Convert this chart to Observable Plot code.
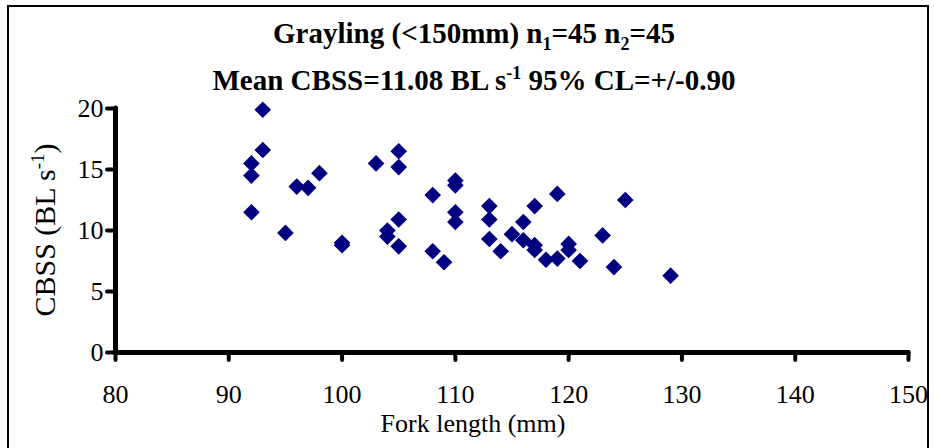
<!DOCTYPE html>
<html>
<head>
<meta charset="utf-8">
<script src="https://cdn.jsdelivr.net/npm/d3@7"></script>
<script src="https://cdn.jsdelivr.net/npm/@observablehq/plot@0.6"></script>
<style>
  html, body { margin: 0; padding: 0; background: #fff; }
  #wrap { position: relative; width: 934px; height: 448px; overflow: hidden; font-family: "Liberation Serif", "DejaVu Serif", serif; }
  #frame { position: absolute; left: 7px; top: 5px; width: 922px; height: 460px; border: 2px solid #000; box-sizing: border-box; }
  .title { position: absolute; left: 0; width: 948px; text-align: center; font-weight: bold; font-size: 29px; line-height: 30px; color: #000; white-space: nowrap; }
  .title sub, .title sup { font-size: 18px; line-height: 0; }
  #ylab { position: absolute; left: 45px; top: 230px; transform: translate(-50%, -50%) rotate(-90deg); font-size: 30px; line-height: 30px; white-space: nowrap; }
  #ylab sup { font-size: 19px; line-height: 0; }
  #xlab { position: absolute; left: 473px; top: 424px; transform: translate(-50%, -50%); font-size: 26px; line-height: 26px; white-space: nowrap; }
  #chart { position: absolute; left: 0; top: 0; }
</style>
</head>
<body>
<div id="wrap">
  <div id="frame"></div>
  <div id="chart"></div>
  <div class="title" style="top:18px">Grayling (&lt;150mm) n<sub>1</sub>=45 n<sub>2</sub>=45</div>
  <div class="title" style="top:65px">Mean CBSS=11.08 BL s<sup>-1</sup> 95% CL=+/-0.90</div>
  <div id="ylab">CBSS (BL s<sup>-1</sup>)</div>
  <div id="xlab"></div>
</div>
<script>
const forkLength = [93, 93, 92, 92, 96, 97, 98, 92, 95, 100, 100,
  103, 105, 105, 110, 110, 108, 105, 104, 104, 110, 110, 105, 108, 109,
  119, 113, 117, 113, 116, 113, 115, 116, 114, 117, 117, 118, 119, 120, 120, 121,
  125, 123, 124, 129];
const cbss = [19.9, 16.6, 15.5, 14.5, 13.6, 13.5, 14.7, 11.5, 9.8, 9.0, 8.8,
  15.5, 16.5, 15.2, 14.1, 13.7, 12.9, 10.9, 10.0, 9.5, 11.5, 10.7, 8.7, 8.3, 7.4,
  13.0, 12.0, 12.0, 10.9, 10.7, 9.3, 9.7, 9.2, 8.3, 8.8, 8.4, 7.6, 7.7, 8.9, 8.4, 7.5,
  12.5, 9.6, 7.0, 6.3];
const xTicks = [80, 90, 100, 110, 120, 130, 140, 150];
const yTicks = [0, 5, 10, 15, 20];
const xLabel = "Fork length (mm)";
document.getElementById("xlab").textContent = xLabel;

const data = forkLength.map((x, i) => ({x, y: cbss[i]}));

const chart = Plot.plot({
  width: 934,
  height: 448,
  marginLeft: 115,
  marginRight: 26,
  marginTop: 108,
  marginBottom: 96,
  style: {fontFamily: "'Liberation Serif', 'DejaVu Serif', serif", fontSize: "26px", color: "#000", background: "transparent"},
  x: {domain: [80, 150], ticks: xTicks},
  y: {domain: [0, 20], ticks: yTicks},
  marks: [
    Plot.axisX({ticks: xTicks, tickSize: 8, tickPadding: 24, strokeWidth: 4, strokeLinecap: "round", fontSize: 26, fontFamily: "Liberation Serif", label: null}),
    Plot.axisY({ticks: yTicks, tickSize: 8, tickPadding: 4, strokeWidth: 4, strokeLinecap: "round", fontSize: 26, fontFamily: "Liberation Serif", label: null}),
    Plot.ruleY([0], {x1: 80, x2: 150, stroke: "#000", strokeWidth: 5, strokeLinecap: "round"}),
    Plot.ruleX([80], {y1: 0, y2: 20, stroke: "#000", strokeWidth: 5, strokeLinecap: "round"}),
    Plot.dot(data, {x: "x", y: "y", symbol: "diamond2", r: 7.5, fill: "#000080", stroke: "none"})
  ]
});
document.getElementById("chart").appendChild(chart);
</script>
</body>
</html>
